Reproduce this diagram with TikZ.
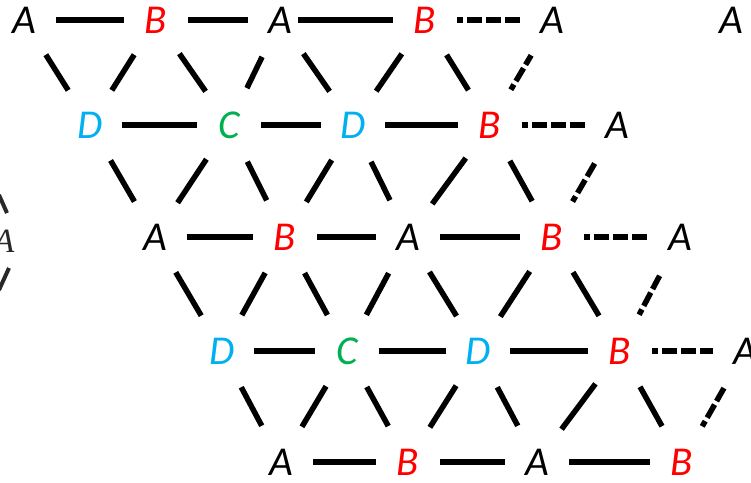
\documentclass[tikz,border=0pt]{standalone}
\usepackage{fontspec}
\setmainfont{Carlito}
\newfontfamily\fragfont{Liberation Serif}
\definecolor{cB}{RGB}{255,0,0}
\definecolor{cC}{RGB}{0,176,80}
\definecolor{cD}{RGB}{0,176,240}
\definecolor{frag}{RGB}{40,40,40}
\tikzset{
  lbl/.style={font=\fontsize{41}{41}\selectfont\itshape, inner sep=0pt},
  la/.style={lbl, text=black},
  lb/.style={lbl, text=cB},
  lc/.style={lbl, text=cC},
  ld/.style={lbl, text=cD},
  hline/.style={line width=5.5pt, shorten <=32pt, shorten >=32pt},
  dline/.style={line width=5.5pt, shorten <=41pt, shorten >=41pt},
  dsh/.style={dash pattern=on 15pt off 4pt, dash phase=9pt},
}
\begin{document}
\begin{tikzpicture}[x=1pt, y=-1pt]
\useasboundingbox (0,0) rectangle (751,482);
% row 0
\node[la] (a00) at (24,20) {A};
\node[lb] (b01) at (156,20) {B};
\node[la] (a02) at (280,20) {A};
\node[lb] (b03) at (425,20) {B};
\node[la] (a04) at (552,20) {A};
\node[la] (a05) at (731,20) {A};
% row 1
\node[ld] (d10) at (90,125) {D};
\node[lc] (c11) at (229,125) {C};
\node[ld] (d12) at (353,125) {D};
\node[lb] (b13) at (490,125) {B};
\node[la] (a14) at (617,125) {A};
% row 2
\node[la] (a20) at (155,237) {A};
\node[lb] (b21) at (285,237) {B};
\node[la] (a22) at (408,237) {A};
\node[lb] (b23) at (552,237) {B};
\node[la] (a24) at (680,237) {A};
% row 3
\node[ld] (d30) at (222,351) {D};
\node[lc] (c31) at (347,351) {C};
\node[ld] (d32) at (478,351) {D};
\node[lb] (b33) at (620,351) {B};
\node[la] (a34) at (745,351) {A};
% row 4
\node[la] (a40) at (281,462) {A};
\node[lb] (b41) at (408,462) {B};
\node[la] (a42) at (537,462) {A};
\node[lb] (b43) at (682,462) {B};
% horizontal
\draw[hline] (a00.center) -- (b01.center);
\draw[hline] (b01.center) -- (a02.center);
\draw[hline, shorten <=18pt] (a02.center) -- (b03.center);
\draw[hline, dsh] (b03.center) -- (a04.center);
\draw[hline] (d10.center) -- (c11.center);
\draw[hline] (c11.center) -- (d12.center);
\draw[hline] (d12.center) -- (b13.center);
\draw[hline, dsh] (b13.center) -- (a14.center);
\draw[hline] (a20.center) -- (b21.center);
\draw[hline] (b21.center) -- (a22.center);
\draw[hline] (a22.center) -- (b23.center);
\draw[hline, dsh] (b23.center) -- (a24.center);
\draw[hline] (d30.center) -- (c31.center);
\draw[hline] (c31.center) -- (d32.center);
\draw[hline] (d32.center) -- (b33.center);
\draw[hline, dsh] (b33.center) -- (a34.center);
\draw[hline] (a40.center) -- (b41.center);
\draw[hline] (b41.center) -- (a42.center);
\draw[hline] (a42.center) -- (b43.center);
% diagonals rows 0-1
\draw[dline] (a00.center) -- (d10.center);
\draw[dline] (d10.center) -- (b01.center);
\draw[dline] (b01.center) -- (c11.center);
\draw[dline] (c11.center) -- (a02.center);
\draw[dline] (a02.center) -- (d12.center);
\draw[dline] (d12.center) -- (b03.center);
\draw[dline] (b03.center) -- (b13.center);
\draw[dline, dsh] (b13.center) -- (a04.center);
% rows 1-2
\draw[dline] (d10.center) -- (a20.center);
\draw[dline] (a20.center) -- (c11.center);
\draw[dline] (c11.center) -- (b21.center);
\draw[dline] (b21.center) -- (d12.center);
\draw[dline] (d12.center) -- (a22.center);
\draw[dline] (a22.center) -- (b13.center);
\draw[dline] (b13.center) -- (b23.center);
\draw[dline, dsh] (b23.center) -- (a14.center);
% rows 2-3
\draw[dline] (a20.center) -- (d30.center);
\draw[dline] (d30.center) -- (b21.center);
\draw[dline] (b21.center) -- (c31.center);
\draw[dline] (c31.center) -- (a22.center);
\draw[dline] (a22.center) -- (d32.center);
\draw[dline] (d32.center) -- (b23.center);
\draw[dline] (b23.center) -- (b33.center);
\draw[dline, dsh] (b33.center) -- (a24.center);
% rows 3-4
\draw[dline] (d30.center) -- (a40.center);
\draw[dline] (a40.center) -- (c31.center);
\draw[dline] (c31.center) -- (b41.center);
\draw[dline] (b41.center) -- (d32.center);
\draw[dline] (d32.center) -- (a42.center);
\draw[dline] (a42.center) -- (b33.center);
\draw[dline] (b33.center) -- (b43.center);
\draw[dline, dsh] (b43.center) -- (a34.center);
% left-edge fragment
\node[font=\fontsize{34}{34}\selectfont\fragfont\itshape, text=frag, inner sep=0pt] (fa) at (4,241) {A};
\coordinate (f1) at (-1,195);
\coordinate (f2) at (7,213);
\coordinate (f3) at (9,268);
\coordinate (f4) at (-1,290);
\draw[line width=4pt, frag] (f1) -- (f2);
\draw[line width=4pt, frag] (f3) -- (f4);
\end{tikzpicture}
\end{document}
